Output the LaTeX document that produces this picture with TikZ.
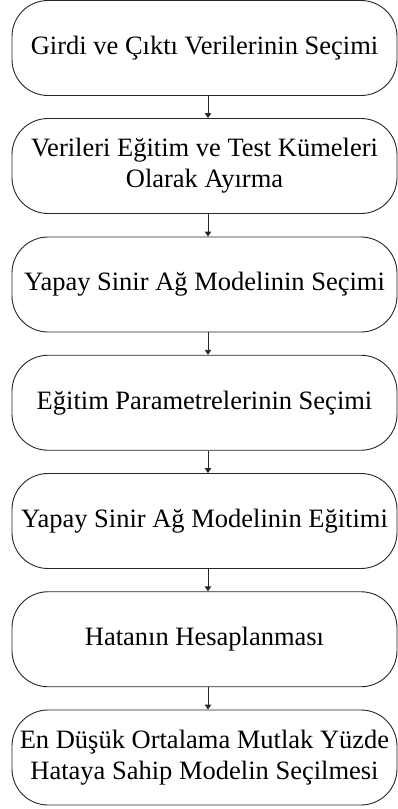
\documentclass[tikz,border=0pt]{standalone}
\usepackage{fontspec}
\setmainfont{Liberation Serif}
\usetikzlibrary{arrows.meta}
\begin{document}
\begin{tikzpicture}[x=1pt,y=-1pt,
  stepbox/.style={draw=black!85, line width=0.9pt, rounded corners=36pt,
    minimum width=385pt, minimum height=95pt, inner sep=0pt,
    align=center, font=\fontsize{26.5}{31}\selectfont},
  flow/.style={draw=black!85, line width=0.9pt, -{Triangle[length=5pt,width=6.5pt]}}]
\useasboundingbox (0,0) rectangle (398,809);
\node[stepbox] (b1) at (204.5,48) {Girdi ve Çıktı Verilerinin Seçimi};
\node[stepbox] (b2) at (204.5,166) {Verileri Eğitim ve Test Kümeleri\\Olarak Ayırma};
\node[stepbox] (b3) at (204.5,284.5) {Yapay Sinir Ağ Modelinin Seçimi};
\node[stepbox] (b4) at (204.5,402.75) {Eğitim Parametrelerinin Seçimi};
\node[stepbox] (b5) at (204.5,521) {Yapay Sinir Ağ Modelinin Eğitimi};
\node[stepbox] (b6) at (204.5,639.25) {Hatanın Hesaplanması};
\node[stepbox] (b7) at (204.5,757.5) {En Düşük Ortalama Mutlak Yüzde\\Hataya Sahip Modelin Seçilmesi};
\foreach \a/\b in {b1/b2,b2/b3,b3/b4,b4/b5,b5/b6,b6/b7}
  \draw[flow] ([xshift=3.5pt]\a.south) -- ([xshift=3.5pt]\b.north);
\end{tikzpicture}
\end{document}
